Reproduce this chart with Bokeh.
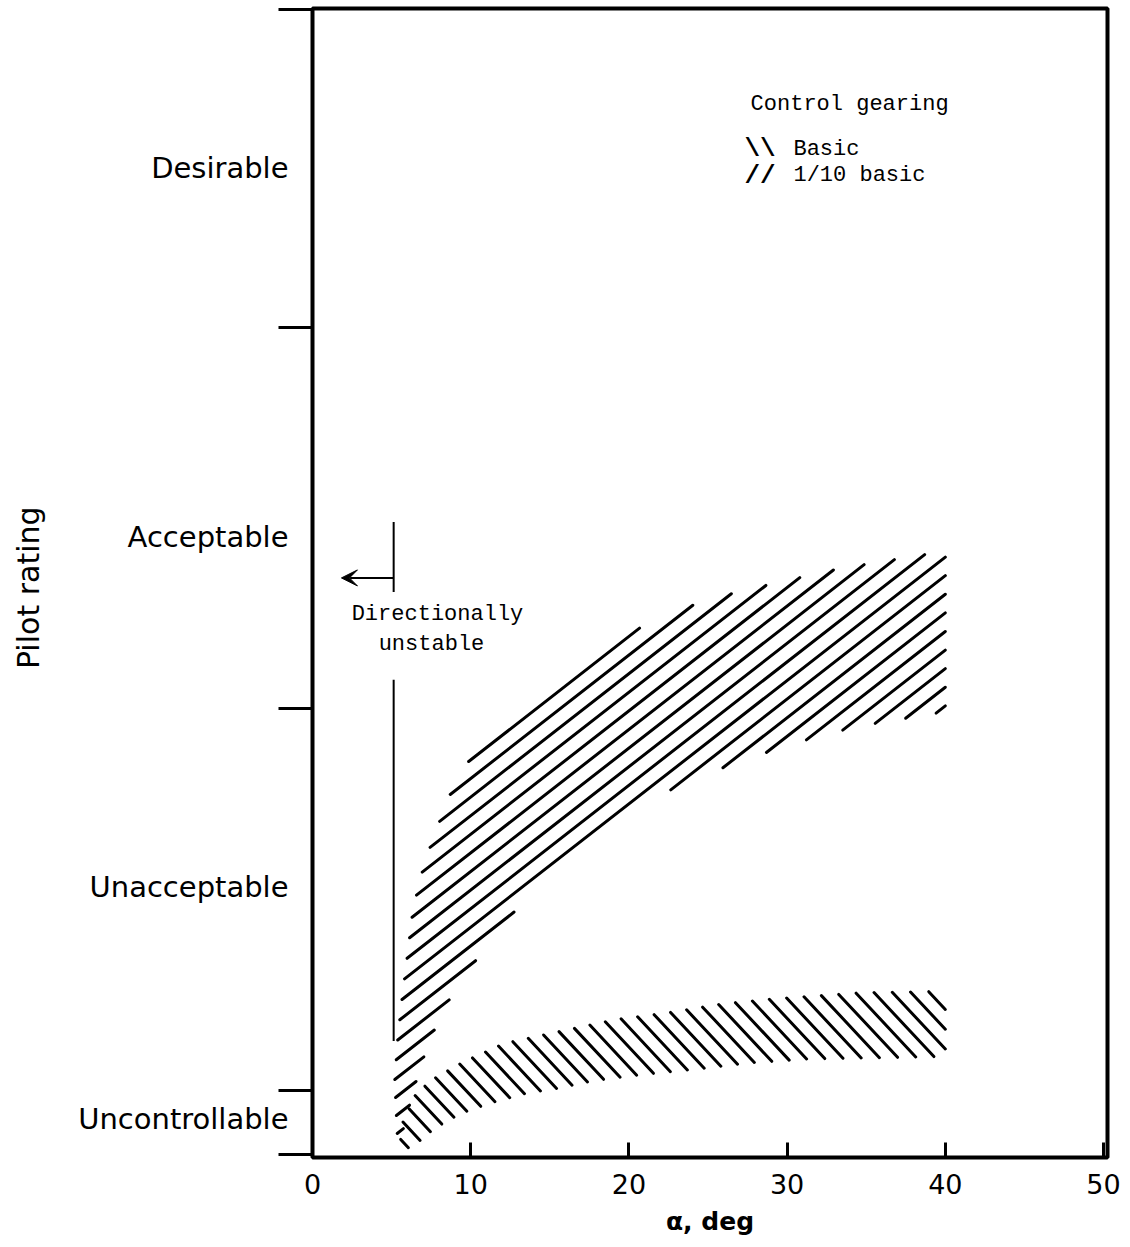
from bokeh.plotting import figure
from bokeh.models import Range1d, FixedTicker, Label, Arrow, VeeHead
from bokeh.embed import file_html
from bokeh.resources import INLINE
import math

# ---- data ----
alpha_ticks = [0, 10, 20, 30, 40, 50]
rating_ticks = [1, 3.5, 6.5, 9.5, 10]
rating_label_pos = [2.25, 5.15, 7.9, 9.72]
rating_labels = ["Desirable", "Acceptable", "Unacceptable", "Uncontrollable"]

# 1/10 basic control gearing band
tenth_upper_alpha = [5.2, 5.4, 5.67, 6.0, 6.36, 7.1, 8.4, 9.2, 11.2, 16.1, 19.9, 23.0, 25.3, 29.3, 33.2, 40.0]
tenth_upper_rating = [9.41, 9.08, 8.77, 8.44, 8.07, 7.70, 7.26, 7.03, 6.68, 6.18, 5.91, 5.73, 5.63, 5.51, 5.40, 5.26]
tenth_lower_alpha = [5.4, 5.86, 6.49, 7.05, 7.87, 9.0, 11.3, 14.4, 18.1, 22.2, 25.3, 30.1, 34.3, 40.0]
tenth_lower_rating = [9.97, 9.74, 9.45, 9.23, 8.97, 8.70, 8.31, 7.85, 7.44, 7.16, 6.99, 6.78, 6.64, 6.52]

# basic control gearing band
basic_upper_alpha = [5.5, 5.67, 6.55, 7.75, 9.45, 12.1, 15.05, 19.2, 22.4, 25.8, 29.0, 34.8, 40.0]
basic_upper_rating = [9.98, 9.76, 9.52, 9.40, 9.28, 9.13, 9.05, 8.94, 8.89, 8.82, 8.78, 8.73, 8.72]
basic_lower_alpha = [5.5, 6.55, 7.24, 8.44, 9.57, 11.15, 13.5, 15.55, 17.8, 21.0, 24.3, 27.7, 31.3, 36.0, 40.0]
basic_lower_rating = [9.98, 9.92, 9.84, 9.74, 9.67, 9.60, 9.52, 9.48, 9.42, 9.37, 9.33, 9.28, 9.25, 9.24, 9.23]

# directional stability boundary
unstable_alpha = 5.13
unstable_seg_start = [5.03, 6.27]
unstable_seg_end = [5.58, 9.11]
arrow_rating = 5.47
arrow_tip_alpha = 1.83

# ---- layout ----
W, H = 1130, 1247
BL, BR, BT, BB = 312, 23, 8, 90
X0, X1 = 0, 50.25
Y0, Y1 = 10.025, 0.995

p = figure(width=W, height=H, output_backend="svg", toolbar_location=None,
           x_range=Range1d(X0, X1), y_range=Range1d(Y0, Y1),
           min_border_left=BL, min_border_right=BR, min_border_top=BT, min_border_bottom=BB)
p.background_fill_color = "white"
p.border_fill_color = "white"
p.grid.visible = False
p.outline_line_color = "black"
p.outline_line_width = 4

# x axis
p.xaxis.ticker = FixedTicker(ticks=alpha_ticks)
p.xaxis.axis_line_color = None
p.xaxis.major_tick_in = 15
p.xaxis.major_tick_out = 0
p.xaxis.major_tick_line_width = 3
p.xaxis.minor_tick_line_color = None
p.xaxis.major_label_standoff = 16
p.xaxis.major_label_text_font = "DejaVu Sans"
p.xaxis.major_label_text_font_size = "27px"
p.xaxis.major_label_text_color = "black"
p.xaxis.axis_label = "α, deg"
p.xaxis.axis_label_text_font = "DejaVu Sans"
p.xaxis.axis_label_text_font_size = "25px"
p.xaxis.axis_label_text_font_style = "bold"
p.xaxis.axis_label_text_color = "black"
p.xaxis.axis_label_standoff = 10

# y axis
p.yaxis.ticker = FixedTicker(ticks=rating_label_pos, minor_ticks=rating_ticks)
p.yaxis.major_label_overrides = {k: v for k, v in zip(rating_label_pos, rating_labels)}
p.yaxis.axis_line_color = None
p.yaxis.major_tick_in = 0
p.yaxis.major_tick_out = 0
p.yaxis.minor_tick_in = 0
p.yaxis.minor_tick_out = 34
p.yaxis.minor_tick_line_width = 3
p.yaxis.minor_tick_line_color = "black"
p.yaxis.major_label_standoff = -10
p.yaxis.major_label_text_font = "DejaVu Sans"
p.yaxis.major_label_text_font_size = "29px"
p.yaxis.major_label_text_color = "black"
p.yaxis.axis_label = "Pilot  rating"
p.yaxis.axis_label_text_font = "DejaVu Sans"
p.yaxis.axis_label_text_font_size = "30px"
p.yaxis.axis_label_text_font_style = "normal"
p.yaxis.axis_label_text_color = "black"
p.yaxis.axis_label_standoff = 29

# ---- hatching: parallel lines clipped to each band polygon ----
SX = (W - BL - BR) / (X1 - X0)       # px per degree
SY = (H - BT - BB) / (Y0 - Y1)       # px per rating unit

def hatch(xs, ys, slope, spacing, phase=0.0):
    """slope: screen dv/du (v up); spacing: vertical px between lines."""
    u = [x * SX for x in xs]
    v = [-y * SY for y in ys]
    n = len(u)
    cs = [vv - slope * uu for uu, vv in zip(u, v)]
    k0 = math.floor((min(cs) - phase) / spacing)
    k1 = math.ceil((max(cs) - phase) / spacing)
    x0s, y0s, x1s, y1s = [], [], [], []
    for kk in range(k0, k1 + 1):
        c = phase + kk * spacing
        pts = []
        for i in range(n):
            ua, va = u[i], v[i]
            ub, vb = u[(i + 1) % n], v[(i + 1) % n]
            fa = va - slope * ua - c
            fb = vb - slope * ub - c
            if (fa > 0) != (fb > 0):
                t = fa / (fa - fb)
                pts.append(ua + t * (ub - ua))
        pts.sort()
        for j in range(0, len(pts) - 1, 2):
            ua, ub = pts[j], pts[j + 1]
            x0s.append(ua / SX); y0s.append(-(slope * ua + c) / SY)
            x1s.append(ub / SX); y1s.append(-(slope * ub + c) / SY)
    return x0s, y0s, x1s, y1s

tx = tenth_upper_alpha + tenth_lower_alpha[::-1]
ty = tenth_upper_rating + tenth_lower_rating[::-1]
bx = basic_upper_alpha + basic_lower_alpha[::-1]
by = basic_upper_rating + basic_lower_rating[::-1]

a0, b0, a1, b1 = hatch(tx, ty, 0.78, 18.6, phase=3.0)
p.segment(x0=a0, y0=b0, x1=a1, y1=b1, line_color="black", line_width=3, line_cap="round")
a0, b0, a1, b1 = hatch(bx, by, -1.07, 19.8, phase=5.0)
p.segment(x0=a0, y0=b0, x1=a1, y1=b1, line_color="black", line_width=3, line_cap="round")

# directional stability boundary
p.segment(x0=[unstable_alpha] * 2, y0=unstable_seg_start, x1=[unstable_alpha] * 2, y1=unstable_seg_end,
          line_color="black", line_width=2)
p.add_layout(Arrow(x_start=unstable_alpha, y_start=arrow_rating, x_end=arrow_tip_alpha, y_end=arrow_rating,
                   line_width=2, line_color="black",
                   end=VeeHead(size=16, fill_color="black", line_color="black", line_width=1)))

mono = "Liberation Mono"
def lab(x, y, t, align="left", size="22px", style="normal"):
    p.add_layout(Label(x=x, y=y, text=t, text_font=mono, text_font_size=size, text_align=align,
                       text_baseline="middle", text_color="black", text_font_style=style))

lab(7.9, 5.76, "Directionally", align="center")
lab(7.52, 5.99, "unstable", align="center")
lab(27.69, 1.75, "Control gearing")
lab(27.3, 2.10, "\\\\", size="26px", style="bold")
lab(30.4, 2.10, "Basic")
lab(27.3, 2.31, "//", size="26px", style="bold")
lab(30.4, 2.31, "1/10 basic")

open("out.html", "w").write(file_html(p, INLINE))
